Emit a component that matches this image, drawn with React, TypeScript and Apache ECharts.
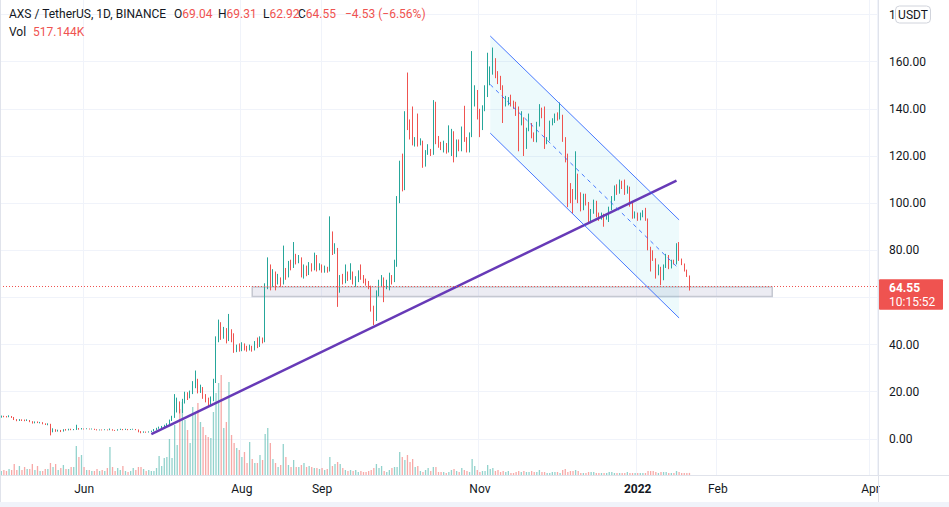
import React, { useEffect, useRef } from "react";
import * as echarts from "echarts";

// ---------- data ----------
const START_DATE = "2021-04-30";
const AXIS_DAYS = 339; // daily slots shown on the time axis (to early Apr 2022)
const FIRST_OPEN = 9.2;

const closes = [
  9.6, 9.5, 9.4, 9.6, 9.2, 8.2, 7.8, 8.1, 7.9, 7.8,
  7.9, 7.3, 6.8, 7.2, 6.9, 7.0, 6.5, 6.2, 6.3, 3.4,
  3.9, 3.3, 3.6, 3.2, 3.9, 3.8, 4.1, 3.9, 4.0, 4.3,
  4.1, 4.3, 4.2, 4.3, 4.2, 4.2, 4.0, 3.8, 3.9, 3.8,
  3.9, 3.8, 4.0, 3.7, 3.6, 3.9, 4.0, 3.9, 4.1, 3.9,
  4.0, 4.1, 3.9, 3.1, 2.7, 3.0, 2.8, 3.0, 3.3, 3.9,
  4.4, 4.8, 5.1, 5.6, 6.2, 7.8, 9.3, 12.2, 15.8, 11.5,
  15.5, 18.5, 17.8, 19.5, 22.5, 24.0, 20.5, 21.5, 18.0, 16.5,
  15.0, 16.5, 24.5, 42.0, 48.5, 44.0, 46.0, 42.0, 45.0, 42.5,
  37.5, 39.0, 38.0, 40.0, 38.5, 38.0, 39.0, 38.0, 40.0, 39.5,
  42.5, 41.5, 64.5, 73.0, 65.5, 70.5, 66.5, 67.5, 66.0, 71.5,
  69.0, 74.0, 73.0, 77.0, 75.5, 76.5, 69.0, 72.5, 70.0, 73.5,
  72.0, 75.0, 72.0, 73.0, 71.5, 72.5, 71.5, 84.0, 79.5, 80.5,
  64.5, 68.0, 67.0, 69.5, 68.5, 70.0, 66.5, 67.5, 70.0, 68.5,
  67.0, 66.0, 64.5, 55.0, 51.0, 61.5, 66.0, 68.0, 64.5, 66.0,
  69.0, 67.0, 74.0, 101.0, 110.0, 106.0, 137.0, 134.0, 128.5, 125.5,
  126.5, 125.0, 126.0, 116.0, 121.5, 122.5, 121.0, 136.4, 126.0, 124.4,
  123.7, 125.0, 122.0, 127.4, 130.0, 120.0, 126.0, 123.0, 131.5, 127.0,
  122.0, 129.0, 142.7, 147.0, 138.5, 132.0, 140.0, 146.0, 151.5, 156.0,
  160.0, 155.0, 153.0, 149.5, 142.0, 143.0, 144.0, 142.0, 141.0, 140.5,
  135.0, 135.5, 123.5, 131.0, 132.5, 128.6, 127.0, 133.5, 139.5, 137.2,
  126.0, 127.2, 134.0, 134.8, 137.0, 136.0, 136.8, 127.0, 120.0, 108.0,
  105.0, 102.5, 112.0, 103.0, 97.5, 103.0, 100.0, 92.0, 96.5, 100.5,
  95.0, 93.5, 95.0, 93.5, 94.5, 97.5, 102.0, 106.5, 104.5, 108.5,
  107.0, 104.5, 106.5, 99.5, 94.0, 95.5, 93.0, 95.0, 96.2, 93.0,
  80.5, 79.5, 76.0, 70.0, 73.0, 68.5, 73.0, 77.5, 72.5, 75.0,
  74.5, 80.0, 76.0, 74.0, 71.5, 69.08, 64.55,
];

const highs = [
  9.9, 9.8, 9.7, 10.0, 9.7, 9.3, 8.4, 8.4, 8.3, 8.2,
  8.3, 8.0, 7.5, 7.4, 7.4, 7.2, 7.1, 6.6, 6.6, 6.4,
  4.5, 4.1, 3.9, 3.8, 4.1, 4.2, 4.3, 4.3, 4.2, 6.0,
  4.6, 4.6, 4.4, 4.5, 4.4, 4.4, 4.3, 4.1, 4.0, 4.0,
  4.1, 4.0, 4.4, 4.1, 3.8, 4.1, 4.3, 4.2, 4.3, 4.2,
  4.2, 4.3, 4.2, 4.0, 3.3, 3.2, 3.1, 3.2, 3.5, 4.2,
  4.7, 5.2, 5.5, 6.0, 6.6, 8.2, 9.8, 19.0, 17.5, 15.9,
  17.0, 20.0, 19.8, 20.5, 24.5, 29.0, 25.5, 23.0, 22.0, 19.0,
  17.5, 18.0, 25.5, 43.5, 50.6, 49.5, 47.5, 47.0, 53.0, 46.5,
  44.8, 40.0, 40.5, 41.0, 40.5, 39.5, 40.0, 39.5, 41.5, 43.0,
  43.5, 43.0, 66.0, 77.0, 74.0, 72.0, 71.0, 70.0, 68.5, 82.0,
  72.5, 75.5, 76.0, 83.5, 78.5, 78.0, 77.0, 74.0, 73.5, 75.0,
  74.5, 79.0, 78.0, 74.5, 74.0, 73.5, 73.0, 94.4, 88.0, 83.0,
  81.0, 69.5, 70.0, 74.0, 71.0, 74.5, 71.0, 69.0, 71.5, 74.0,
  69.5, 68.0, 67.0, 65.0, 56.5, 63.0, 67.5, 69.5, 68.5, 67.5,
  70.5, 69.5, 76.0, 103.0, 118.0, 121.0, 139.0, 155.4, 135.5, 141.0,
  128.0, 138.0, 127.5, 126.5, 122.5, 125.0, 123.0, 143.7, 143.0, 128.5,
  126.0, 126.5, 125.5, 133.0, 131.5, 130.5, 127.0, 127.0, 132.5, 141.3,
  128.0, 130.0, 164.5, 150.0, 148.0, 140.0, 141.5, 150.0, 163.8, 158.0,
  166.0, 161.5, 156.0, 154.0, 150.0, 145.5, 145.0, 146.0, 143.5, 143.0,
  141.0, 139.0, 136.4, 132.0, 138.0, 134.0, 130.0, 134.5, 142.0, 140.5,
  141.0, 128.0, 135.0, 136.0, 138.0, 138.5, 142.7, 137.5, 128.0, 121.0,
  108.5, 106.0, 122.0, 112.5, 104.6, 104.0, 104.0, 100.5, 97.5, 101.5,
  101.0, 96.0, 96.0, 95.5, 95.5, 98.5, 103.0, 107.5, 108.0, 110.0,
  109.5, 110.0, 107.5, 107.0, 100.4, 96.5, 96.0, 96.0, 97.0, 98.0,
  93.5, 81.5, 80.0, 76.6, 74.0, 73.0, 74.0, 78.5, 78.0, 76.0,
  76.0, 83.0, 83.5, 76.5, 74.4, 71.8, 69.31,
];

const lows = [
  9.0, 9.2, 9.1, 9.2, 8.9, 8.0, 7.5, 7.6, 7.6, 7.5,
  7.6, 7.1, 6.5, 6.6, 6.7, 6.6, 6.2, 5.9, 5.8, 1.5,
  2.8, 3.0, 3.1, 2.9, 3.1, 3.5, 3.6, 3.7, 3.7, 3.8,
  3.9, 4.0, 4.0, 4.1, 4.0, 4.0, 3.8, 3.6, 3.6, 3.6,
  3.7, 3.6, 3.7, 3.5, 3.4, 3.5, 3.8, 3.7, 3.8, 3.7,
  3.8, 3.9, 3.7, 2.8, 2.4, 2.6, 2.6, 2.7, 2.9, 3.2,
  3.8, 4.3, 4.6, 5.0, 5.5, 6.0, 7.6, 8.9, 11.2, 10.8,
  11.0, 15.0, 16.5, 17.2, 19.0, 21.5, 19.3, 19.5, 17.0, 15.5,
  13.5, 14.2, 16.0, 23.7, 41.0, 42.0, 42.5, 40.5, 41.5, 41.0,
  36.5, 36.8, 37.0, 37.2, 37.5, 37.0, 37.5, 37.0, 37.5, 38.5,
  39.0, 40.5, 41.0, 63.5, 63.0, 64.5, 63.0, 65.5, 64.5, 65.5,
  67.5, 68.5, 71.5, 72.5, 74.0, 74.5, 68.5, 68.0, 69.0, 69.5,
  71.0, 71.5, 71.0, 71.5, 70.5, 70.5, 70.5, 71.0, 78.0, 78.5,
  56.0, 62.0, 65.5, 66.0, 67.0, 67.5, 65.5, 64.5, 66.5, 67.5,
  66.0, 65.0, 63.5, 54.0, 48.3, 50.0, 60.5, 64.5, 58.0, 63.5,
  63.0, 65.5, 66.5, 73.0, 100.0, 105.0, 105.5, 131.0, 127.0, 124.5,
  124.0, 124.0, 124.5, 115.0, 115.5, 120.5, 120.0, 120.5, 125.0, 123.5,
  122.5, 121.5, 121.0, 121.5, 120.0, 117.3, 119.5, 122.0, 122.0, 126.0,
  121.5, 121.5, 128.0, 141.0, 135.5, 128.0, 131.0, 139.0, 145.0, 150.0,
  154.5, 153.0, 150.5, 148.0, 134.0, 141.0, 141.5, 141.0, 140.0, 137.0,
  122.0, 133.0, 120.0, 123.0, 130.5, 127.5, 126.0, 125.8, 132.5, 136.0,
  123.0, 125.0, 126.5, 133.0, 134.0, 135.0, 135.5, 126.0, 117.3, 98.3,
  100.0, 95.6, 101.5, 100.0, 96.5, 97.0, 99.0, 91.4, 91.5, 95.5,
  94.0, 92.5, 93.0, 90.0, 93.0, 92.0, 97.0, 101.0, 103.5, 104.0,
  106.0, 103.5, 104.0, 98.5, 93.4, 93.5, 92.5, 92.7, 94.0, 92.5,
  80.0, 71.0, 75.5, 68.0, 69.4, 65.2, 67.3, 72.5, 72.0, 72.3,
  74.0, 74.0, 75.5, 73.7, 71.0, 68.7, 62.92,
];

// volume, millions of AXS
const volumesM = [
  1.0, 1.25, 1.0, 1.5, 1.25, 2.75, 1.25, 2.25, 1.25, 2.0,
  1.5, 1.5, 2.75, 1.25, 2.25, 1.0, 1.0, 1.5, 1.5, 3.0,
  2.0, 2.75, 1.25, 1.75, 2.5, 1.5, 1.5, 2.0, 2.0, 7.25,
  4.5, 5.0, 2.0, 1.25, 1.25, 1.0, 1.0, 1.5, 1.0, 1.25,
  1.0, 1.75, 7.0, 2.0, 1.0, 1.75, 1.25, 2.25, 1.0, 0.75,
  1.0, 1.75, 1.25, 2.0, 2.0, 1.5, 1.0, 1.25, 1.0, 1.0,
  1.75, 4.75, 2.25, 4.25, 4.5, 9.0, 4.25, 12.5, 7.5, 16.5,
  18.25, 13.75, 11.25, 8.0, 17.0, 15.5, 18.0, 13.25, 12.0, 10.0,
  9.5, 9.25, 15.75, 20.5, 23.0, 25.0, 11.75, 13.25, 23.25, 10.0,
  8.0, 6.75, 6.25, 4.5, 5.75, 3.0, 8.25, 4.0, 3.0, 3.0,
  5.0, 3.75, 10.25, 11.75, 8.0, 4.0, 3.0, 2.0, 2.5, 7.75,
  4.5, 2.5, 2.0, 3.75, 2.0, 2.0, 2.5, 3.0, 2.0, 2.25,
  2.0, 1.75, 1.75, 1.5, 1.75, 1.25, 1.5, 4.5, 2.25, 2.75,
  3.25, 2.75, 1.75, 1.25, 1.0, 1.25, 1.0, 1.25, 0.75, 1.0,
  0.75, 0.75, 1.0, 1.25, 1.75, 2.75, 1.75, 2.25, 1.0, 0.75,
  1.25, 1.75, 2.0, 2.0, 5.75, 4.5, 3.75, 5.0, 3.25, 4.0,
  2.0, 2.25, 1.0, 0.75, 1.25, 1.75, 1.0, 2.0, 2.0, 0.75,
  0.75, 0.75, 0.5, 0.75, 1.25, 1.5, 1.0, 0.75, 1.75, 1.25,
  1.0, 0.75, 4.0, 2.25, 1.25, 0.75, 1.0, 1.0, 2.5, 1.5,
  1.75, 1.0, 1.25, 0.75, 1.0, 0.75, 1.0, 0.5, 0.5, 0.75,
  1.0, 0.75, 1.0, 0.75, 0.75, 1.0, 0.75, 0.75, 1.25, 0.75,
  0.75, 0.5, 0.5, 0.75, 0.75, 0.75, 0.5, 1.25, 1.5, 0.75,
  1.0, 1.0, 1.25, 1.0, 0.5, 0.5, 0.5, 0.75, 0.75, 0.75,
  0.5, 0.5, 0.5, 0.5, 0.5, 0.75, 0.75, 0.5, 0.5, 0.5,
  0.5, 0.5, 0.75, 0.5, 0.5, 0.5, 0.5, 0.5, 0.5, 0.5,
  1.0, 1.0, 1.0, 0.75, 0.5, 0.75, 0.75, 0.75, 0.5, 0.5,
  0.5, 1.0, 0.75, 0.5, 0.5, 0.5, 0.52,
];

const TIME_LABELS: Record<string, string> = {
  "2021-06-01": "Jun",
  "2021-08-01": "Aug",
  "2021-09-01": "Sep",
  "2021-11-01": "Nov",
  "2022-01-01": "2022",
  "2022-02-01": "Feb",
  "2022-04-01": "Apr",
};

// price scale: bottom of the price pane is -20, top of the visible pane ~186
const PRICE_MIN = -20;
const PRICE_MAX = 186.17;
const PRICE_STEP = 20;

// drawings: [day index, price]
const trendLine = [[58, 2.0], [261, 109.6]];
const channelUpper = [[189, 170.9], [262, 92.9]];
const channelLower = [[189, 129.7], [262, 51.3]];
const channelMid = [[189, 150.3], [262, 72.1]];
const supportZone = [[97, 64.4], [298, 60.4]];
const LAST_PRICE = 64.55;
const COUNTDOWN = "10:15:52";

// ---------- styles ----------
const UP = "#26a69a";
const DOWN = "#ef5350";
const UP_VOL = "rgba(38,166,154,0.5)";
const DOWN_VOL = "rgba(239,83,80,0.5)";
const TEXT = "#131722";
const GRID = "#f0f3fa";
const BORDER = "#e0e3eb";
const FONT = "Roboto";

function buildDates(): string[] {
  const out: string[] = [];
  const [y, m, d] = START_DATE.split("-").map(Number);
  const t0 = Date.UTC(y, m - 1, d);
  for (let k = 0; k < AXIS_DAYS; k++) {
    out.push(new Date(t0 + k * 86400000).toISOString().slice(0, 10));
  }
  return out;
}

export default function App() {
  const ref = useRef<HTMLDivElement>(null);

  useEffect(() => {
    const el = ref.current;
    if (!el) return;
    const chart = echarts.init(el, undefined, { renderer: "svg" });
    const dates = buildDates();

    const opens = closes.map((_, i) => (i === 0 ? FIRST_OPEN : closes[i - 1]));
    const candleData = closes.map((c, i) => [opens[i], c, lows[i], highs[i]]);
    const volData = volumesM.map((v, i) => ({
      value: v,
      itemStyle: { color: closes[i] >= opens[i] ? UP_VOL : DOWN_VOL },
    }));

    const isLabelDay = (_i: number, v: string) => v in TIME_LABELS;
    const pt = (p: number[]) => [dates[p[0]], p[1]];

    const channelLine = { color: "#2962ff", width: 1, type: "solid", opacity: 0.85 };
    const channelDash = { color: "#2962ff", width: 1, type: [4, 4], opacity: 0.85 };
    const trendStyle = { color: "#673ab7", width: 2.5, type: "solid" };

    const option: any = {
      animation: false,
      backgroundColor: "#ffffff",
      grid: [
        { left: 0, right: 72, top: 0, bottom: 20.95 },
        { left: 0, right: 72, top: 0, bottom: 32 },
      ],
      xAxis: [
        { type: "category", gridIndex: 0, data: dates, boundaryGap: true, show: false },
        {
          type: "category",
          gridIndex: 1,
          data: dates,
          boundaryGap: true,
          axisLine: { show: true, lineStyle: { color: BORDER, width: 1 } },
          axisTick: { show: false },
          axisLabel: {
            interval: isLabelDay,
            formatter: (v: string) => {
              const t = TIME_LABELS[v] || "";
              return t === "2022" ? "{yr|2022}" : t;
            },
            color: TEXT,
            fontSize: 12,
            fontFamily: FONT,
            margin: 8,
            rich: {
              yr: { fontWeight: "bold", fontSize: 12, fontFamily: FONT, color: TEXT },
            },
          },
          splitLine: { show: true, interval: isLabelDay, lineStyle: { color: GRID, width: 1 } },
        },
      ],
      yAxis: [
        {
          type: "value",
          gridIndex: 0,
          position: "right",
          min: PRICE_MIN,
          max: PRICE_MAX,
          interval: PRICE_STEP,
          axisLine: { show: false },
          axisTick: { show: false },
          axisLabel: {
            color: TEXT,
            fontSize: 12,
            fontFamily: FONT,
            margin: 12,
            showMaxLabel: false,
            formatter: (v: number) => {
              const r = Math.round(v);
              if (r < 0 || Math.abs(v - r) > 1e-6 || r % PRICE_STEP !== 0) return "";
              if (Math.abs(r - LAST_PRICE) < 8) return ""; // hidden under the last-price tag
              return r.toFixed(2);
            },
          },
          splitLine: {
            show: true,
            showMinLine: false,
            showMaxLine: false,
            lineStyle: { color: GRID, width: 1 },
          },
        },
        { type: "value", gridIndex: 1, min: 0, max: 118.75, show: false },
      ],
      series: [
        {
          type: "bar",
          name: "Vol",
          xAxisIndex: 1,
          yAxisIndex: 1,
          data: volData,
          barWidth: 1.3,
          z: 1,
          silent: true,
        },
        {
          type: "custom",
          name: "channel-fill",
          xAxisIndex: 0,
          yAxisIndex: 0,
          z: 1,
          silent: true,
          data: [[channelUpper[0][0], channelUpper[0][1]]],
          renderItem: (_p: any, api: any) => ({
            type: "polygon",
            shape: {
              points: [
                api.coord(channelUpper[0]),
                api.coord(channelUpper[1]),
                api.coord(channelLower[1]),
                api.coord(channelLower[0]),
              ],
            },
            style: { fill: "rgba(0,188,212,0.07)" },
          }),
        },
        {
          type: "candlestick",
          name: "AXS",
          xAxisIndex: 0,
          yAxisIndex: 0,
          z: 3,
          data: candleData,
          barWidth: 1.3,
          itemStyle: {
            color: UP,
            color0: DOWN,
            borderColor: UP,
            borderColor0: DOWN,
            borderWidth: 1,
          },
          markArea: {
            silent: true,
            itemStyle: {
              color: "rgba(149,152,187,0.18)",
              borderColor: "#c5c8d1",
              borderWidth: 1.5,
            },
            data: [[{ coord: pt(supportZone[0]) }, { coord: pt(supportZone[1]) }]],
          },
          markLine: {
            silent: true,
            symbol: ["none", "none"],
            label: { show: false },
            emphasis: { disabled: true },
            data: [
              [
                { coord: pt(trendLine[0]), lineStyle: trendStyle },
                { coord: pt(trendLine[1]), lineStyle: trendStyle },
              ],
              [
                { coord: pt(channelUpper[0]), lineStyle: channelLine },
                { coord: pt(channelUpper[1]), lineStyle: channelLine },
              ],
              [
                { coord: pt(channelLower[0]), lineStyle: channelLine },
                { coord: pt(channelLower[1]), lineStyle: channelLine },
              ],
              [
                { coord: pt(channelMid[0]), lineStyle: channelDash },
                { coord: pt(channelMid[1]), lineStyle: channelDash },
              ],
              {
                yAxis: LAST_PRICE,
                lineStyle: { color: DOWN, width: 1, type: [1, 2] },
              },
            ],
          },
        },
      ],
    };

    chart.setOption(option);

    let yTag = chart.convertToPixel({ yAxisIndex: 0 } as any, LAST_PRICE) as any;
    if (typeof yTag !== "number" || !isFinite(yTag)) yTag = 286.7;

    const red = { fill: DOWN, fontSize: 12, fontFamily: FONT };
    const dark = { fill: TEXT, fontSize: 12, fontFamily: FONT };

    const graphics: any[] = [
      // frame
      { type: "line", z: 50, silent: true, shape: { x1: 878.5, y1: 0, x2: 878.5, y2: 502 }, style: { stroke: BORDER, lineWidth: 1 } },
      { type: "line", z: 50, silent: true, shape: { x1: 877, y1: 475.5, x2: 949, y2: 475.5 }, style: { stroke: BORDER, lineWidth: 1 } },
      { type: "line", z: 50, silent: true, shape: { x1: 0.5, y1: 0, x2: 0.5, y2: 507 }, style: { stroke: BORDER, lineWidth: 1 } },
      { type: "rect", z: 50, silent: true, shape: { x: 0, y: 502, width: 949, height: 5 }, style: { fill: GRID } },
      // legend
      { type: "text", z: 60, silent: true, x: 9, y: 14, style: { text: "AXS / TetherUS, 1D, BINANCE", fill: TEXT, fontSize: 12, fontFamily: FONT, verticalAlign: "middle" } },
      { type: "text", z: 60, silent: true, x: 174, y: 14, style: { text: "{k|O}{v|69.04}", rich: { k: dark, v: red }, verticalAlign: "middle" } },
      { type: "text", z: 60, silent: true, x: 218, y: 14, style: { text: "{k|H}{v|69.31}", rich: { k: dark, v: red }, verticalAlign: "middle" } },
      { type: "text", z: 60, silent: true, x: 263, y: 14, style: { text: "{k|L}{v|62.92}", rich: { k: dark, v: red }, verticalAlign: "middle" } },
      { type: "text", z: 60, silent: true, x: 298, y: 14, style: { text: "{k|C}{v|64.55}", rich: { k: dark, v: red }, verticalAlign: "middle" } },
      { type: "text", z: 60, silent: true, x: 345, y: 14, style: { text: "\u22124.53 (\u22126.56%)", fill: DOWN, fontSize: 12, fontFamily: FONT, verticalAlign: "middle" } },
      { type: "text", z: 60, silent: true, x: 9, y: 32, style: { text: "Vol", fill: TEXT, fontSize: 12, fontFamily: FONT, verticalAlign: "middle" } },
      { type: "text", z: 60, silent: true, x: 33, y: 32, style: { text: "517.144K", fill: DOWN, fontSize: 12, fontFamily: FONT, verticalAlign: "middle" } },
      // currency box
      { type: "rect", z: 60, silent: true, shape: { x: 895.5, y: 6, width: 35, height: 17, r: 4 }, style: { fill: "#ffffff", stroke: "#d1d4dc", lineWidth: 1 } },
      { type: "text", z: 61, silent: true, x: 913, y: 14.7, style: { text: "USDT", fill: TEXT, fontSize: 12, fontFamily: FONT, align: "center", verticalAlign: "middle" } },
      // last price tag
      { type: "rect", z: 60, silent: true, shape: { x: 879, y: yTag - 7.5, width: 64, height: 30.5, r: 1 }, style: { fill: DOWN } },
      { type: "text", z: 61, silent: true, x: 889, y: yTag + 0.8, style: { text: LAST_PRICE.toFixed(2), fill: "#ffffff", fontSize: 12, fontWeight: "bold", fontFamily: FONT, verticalAlign: "middle" } },
      { type: "text", z: 61, silent: true, x: 889, y: yTag + 15.2, style: { text: COUNTDOWN, fill: "#ffffff", fontSize: 12, fontFamily: FONT, verticalAlign: "middle" } },
    ];

    chart.setOption({ graphic: graphics });

    return () => {
      chart.dispose();
    };
  }, []);

  return (
    <div
      ref={ref}
      style={{ position: "absolute", left: 0, top: 0, width: 949, height: 507, background: "#ffffff" }}
    />
  );
}
